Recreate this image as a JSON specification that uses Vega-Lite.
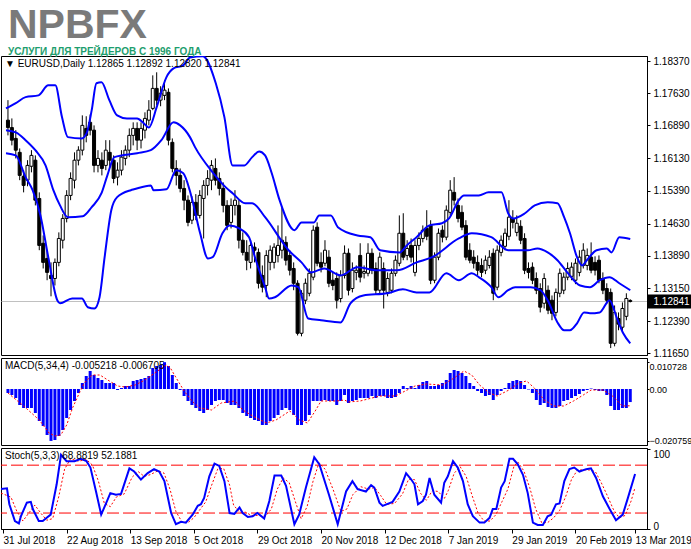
{
"$schema":"https://vega.github.io/schema/vega-lite/v6.json",
"padding":{"left":0,"top":4,"right":0,"bottom":0},
"background":"#ffffff",
"bounds":"flush",
"title":{"text":"NPBFX","subtitle":"УСЛУГИ ДЛЯ ТРЕЙДЕРОВ С 1996 ГОДА","anchor":"start","frame":"bounds","dx":8,"font":"Liberation Sans","fontSize":41,"fontWeight":"bold","color":"#7a7a7a","subtitleFont":"Liberation Sans Narrow, Liberation Sans","subtitleFontSize":10,"subtitleFontWeight":"bold","subtitleColor":"#1e9e6e","subtitlePadding":0,"offset":-2},
"config":{"view":{"stroke":"#000000","strokeWidth":1},"axis":{"domainColor":"#000000","tickColor":"#000000","labelColor":"#000000","labelFont":"Liberation Sans, Arial, sans-serif","labelFontSize":10,"grid":false,"title":null,"labelOverlap":false,"labelFlush":false}},
"spacing":3,
"datasets":{
"bars":[
{"i":0,"o":1.1701,"h":1.1747,"l":1.1666,"c":1.1684,"m":-0.0016},
{"i":1,"o":1.1684,"h":1.1705,"l":1.1643,"c":1.1655,"m":-0.0024},
{"i":2,"o":1.1659,"h":1.1678,"l":1.1613,"c":1.1632,"m":-0.0036},
{"i":3,"o":1.1627,"h":1.1636,"l":1.1563,"c":1.1574,"m":-0.0064},
{"i":4,"o":1.1572,"h":1.1586,"l":1.1535,"c":1.1551,"m":-0.0076},
{"i":5,"o":1.1563,"h":1.1609,"l":1.1549,"c":1.1597,"m":-0.0076},
{"i":6,"o":1.1595,"h":1.1632,"l":1.1581,"c":1.1620,"m":-0.0076},
{"i":7,"o":1.1609,"h":1.1620,"l":1.1505,"c":1.1517,"m":-0.0096},
{"i":8,"o":1.1521,"h":1.1535,"l":1.1402,"c":1.1413,"m":-0.0128},
{"i":9,"o":1.1418,"h":1.1436,"l":1.1360,"c":1.1374,"m":-0.0148},
{"i":10,"o":1.1383,"h":1.1402,"l":1.1333,"c":1.1351,"m":-0.0184},
{"i":11,"o":1.1344,"h":1.1374,"l":1.1296,"c":1.1337,"m":-0.020759},
{"i":12,"o":1.1337,"h":1.1383,"l":1.1321,"c":1.1374,"m":-0.0204},
{"i":13,"o":1.1374,"h":1.1443,"l":1.1365,"c":1.1429,"m":-0.0188},
{"i":14,"o":1.1425,"h":1.1485,"l":1.1406,"c":1.1475,"m":-0.0164},
{"i":15,"o":1.1475,"h":1.1540,"l":1.1466,"c":1.1528,"m":-0.0116},
{"i":16,"o":1.1528,"h":1.1581,"l":1.1517,"c":1.1567,"m":-0.0084},
{"i":17,"o":1.1563,"h":1.1627,"l":1.1544,"c":1.1609,"m":-0.0048},
{"i":18,"o":1.1609,"h":1.1641,"l":1.1597,"c":1.1632,"m":-0.0016},
{"i":19,"o":1.1632,"h":1.1712,"l":1.1620,"c":1.1689,"m":0.0024},
{"i":20,"o":1.1682,"h":1.1710,"l":1.1650,"c":1.1666,"m":0.0052},
{"i":21,"o":1.1696,"h":1.1714,"l":1.1666,"c":1.1678,"m":0.0072},
{"i":22,"o":1.1678,"h":1.1689,"l":1.1581,"c":1.1597,"m":0.0056},
{"i":23,"o":1.1597,"h":1.1632,"l":1.1581,"c":1.1613,"m":0.0044},
{"i":24,"o":1.1609,"h":1.1627,"l":1.1574,"c":1.1590,"m":0.0036},
{"i":25,"o":1.1597,"h":1.1655,"l":1.1586,"c":1.1632,"m":0.0024},
{"i":26,"o":1.1627,"h":1.1655,"l":1.1593,"c":1.1609,"m":0.0024},
{"i":27,"o":1.1609,"h":1.1620,"l":1.1556,"c":1.1567,"m":0.0024},
{"i":28,"o":1.1570,"h":1.1604,"l":1.1551,"c":1.1586,"m":-0.0004},
{"i":29,"o":1.1586,"h":1.1632,"l":1.1574,"c":1.1616,"m":0.0004},
{"i":30,"o":1.1613,"h":1.1643,"l":1.1597,"c":1.1632,"m":0.0012},
{"i":31,"o":1.1632,"h":1.1682,"l":1.1616,"c":1.1666,"m":0.0012},
{"i":32,"o":1.1666,"h":1.1696,"l":1.1643,"c":1.1682,"m":0.0032},
{"i":33,"o":1.1682,"h":1.1696,"l":1.1632,"c":1.1655,"m":0.0036},
{"i":34,"o":1.1655,"h":1.1696,"l":1.1636,"c":1.1682,"m":0.0040},
{"i":35,"o":1.1678,"h":1.1719,"l":1.1659,"c":1.1705,"m":0.0044},
{"i":36,"o":1.1701,"h":1.1747,"l":1.1689,"c":1.1724,"m":0.0052},
{"i":37,"o":1.1728,"h":1.1804,"l":1.1724,"c":1.1774,"m":0.0084},
{"i":38,"o":1.1774,"h":1.1811,"l":1.1735,"c":1.1747,"m":0.0092},
{"i":39,"o":1.1747,"h":1.1779,"l":1.1733,"c":1.1763,"m":0.0096},
{"i":40,"o":1.1758,"h":1.1793,"l":1.1747,"c":1.1770,"m":0.010728},
{"i":41,"o":1.1765,"h":1.1774,"l":1.1643,"c":1.1655,"m":0.0092},
{"i":42,"o":1.1650,"h":1.1659,"l":1.1581,"c":1.1590,"m":0.0056},
{"i":43,"o":1.1590,"h":1.1609,"l":1.1551,"c":1.1574,"m":0.0024},
{"i":44,"o":1.1574,"h":1.1590,"l":1.1535,"c":1.1544,"m":-0.0004},
{"i":45,"o":1.1544,"h":1.1563,"l":1.1494,"c":1.1517,"m":-0.0028},
{"i":46,"o":1.1517,"h":1.1528,"l":1.1457,"c":1.1466,"m":-0.0048},
{"i":47,"o":1.1471,"h":1.1526,"l":1.1462,"c":1.1512,"m":-0.0064},
{"i":48,"o":1.1512,"h":1.1531,"l":1.1471,"c":1.1482,"m":-0.0076},
{"i":49,"o":1.1482,"h":1.1540,"l":1.1475,"c":1.1528,"m":-0.0088},
{"i":50,"o":1.1521,"h":1.1563,"l":1.1429,"c":1.1551,"m":-0.0096},
{"i":51,"o":1.1551,"h":1.1586,"l":1.1528,"c":1.1567,"m":-0.0084},
{"i":52,"o":1.1563,"h":1.1609,"l":1.1540,"c":1.1597,"m":-0.0064},
{"i":53,"o":1.1590,"h":1.1613,"l":1.1551,"c":1.1563,"m":-0.0048},
{"i":54,"o":1.1567,"h":1.1581,"l":1.1528,"c":1.1544,"m":-0.0044},
{"i":55,"o":1.1544,"h":1.1558,"l":1.1489,"c":1.1505,"m":-0.0044},
{"i":56,"o":1.1505,"h":1.1517,"l":1.1448,"c":1.1459,"m":-0.0056},
{"i":57,"o":1.1466,"h":1.1521,"l":1.1452,"c":1.1505,"m":-0.0064},
{"i":58,"o":1.1505,"h":1.1540,"l":1.1482,"c":1.1517,"m":-0.0064},
{"i":59,"o":1.1505,"h":1.1517,"l":1.1406,"c":1.1425,"m":-0.0076},
{"i":60,"o":1.1425,"h":1.1443,"l":1.1390,"c":1.1397,"m":-0.0096},
{"i":61,"o":1.1397,"h":1.1425,"l":1.1356,"c":1.1379,"m":-0.0108},
{"i":62,"o":1.1374,"h":1.1425,"l":1.1360,"c":1.1413,"m":-0.0116},
{"i":63,"o":1.1409,"h":1.1420,"l":1.1374,"c":1.1402,"m":-0.0124},
{"i":64,"o":1.1397,"h":1.1406,"l":1.1314,"c":1.1326,"m":-0.0128},
{"i":65,"o":1.1344,"h":1.1367,"l":1.1305,"c":1.1317,"m":-0.0144},
{"i":66,"o":1.1321,"h":1.1402,"l":1.1294,"c":1.1390,"m":-0.0144},
{"i":67,"o":1.1374,"h":1.1413,"l":1.1356,"c":1.1402,"m":-0.0128},
{"i":68,"o":1.1374,"h":1.1418,"l":1.1360,"c":1.1409,"m":-0.0116},
{"i":69,"o":1.1390,"h":1.1459,"l":1.1374,"c":1.1413,"m":-0.0104},
{"i":70,"o":1.1402,"h":1.1501,"l":1.1383,"c":1.1425,"m":-0.0084},
{"i":71,"o":1.1420,"h":1.1434,"l":1.1367,"c":1.1379,"m":-0.0076},
{"i":72,"o":1.1390,"h":1.1402,"l":1.1344,"c":1.1356,"m":-0.0084},
{"i":73,"o":1.1360,"h":1.1374,"l":1.1310,"c":1.1326,"m":-0.0104},
{"i":74,"o":1.1326,"h":1.1333,"l":1.1206,"c":1.1211,"m":-0.0144},
{"i":75,"o":1.1211,"h":1.1310,"l":1.1204,"c":1.1303,"m":-0.0144},
{"i":76,"o":1.1287,"h":1.1337,"l":1.1278,"c":1.1326,"m":-0.0128},
{"i":77,"o":1.1303,"h":1.1360,"l":1.1296,"c":1.1349,"m":-0.0104},
{"i":78,"o":1.1340,"h":1.1459,"l":1.1333,"c":1.1448,"m":-0.0048},
{"i":79,"o":1.1455,"h":1.1466,"l":1.1365,"c":1.1372,"m":-0.0048},
{"i":80,"o":1.1374,"h":1.1397,"l":1.1351,"c":1.1363,"m":-0.0048},
{"i":81,"o":1.1372,"h":1.1425,"l":1.1365,"c":1.1402,"m":-0.0044},
{"i":82,"o":1.1386,"h":1.1402,"l":1.1317,"c":1.1326,"m":-0.0048},
{"i":83,"o":1.1333,"h":1.1351,"l":1.1310,"c":1.1321,"m":-0.0048},
{"i":84,"o":1.1337,"h":1.1351,"l":1.1268,"c":1.1287,"m":-0.0064},
{"i":85,"o":1.1291,"h":1.1356,"l":1.1282,"c":1.1344,"m":-0.0048},
{"i":86,"o":1.1344,"h":1.1413,"l":1.1337,"c":1.1395,"m":-0.0024},
{"i":87,"o":1.1395,"h":1.1406,"l":1.1298,"c":1.1310,"m":-0.0056},
{"i":88,"o":1.1314,"h":1.1374,"l":1.1305,"c":1.1356,"m":-0.0048},
{"i":89,"o":1.1351,"h":1.1367,"l":1.1333,"c":1.1356,"m":-0.0044},
{"i":90,"o":1.1390,"h":1.1418,"l":1.1328,"c":1.1340,"m":-0.0036},
{"i":91,"o":1.1349,"h":1.1367,"l":1.1337,"c":1.1353,"m":-0.0036},
{"i":92,"o":1.1349,"h":1.1418,"l":1.1342,"c":1.1395,"m":-0.0036},
{"i":93,"o":1.1395,"h":1.1406,"l":1.1347,"c":1.1356,"m":-0.0028},
{"i":94,"o":1.1360,"h":1.1374,"l":1.1301,"c":1.1310,"m":-0.0036},
{"i":95,"o":1.1310,"h":1.1397,"l":1.1303,"c":1.1386,"m":-0.0028},
{"i":96,"o":1.1360,"h":1.1374,"l":1.1268,"c":1.1310,"m":-0.0028},
{"i":97,"o":1.1305,"h":1.1351,"l":1.1296,"c":1.1337,"m":-0.0036},
{"i":98,"o":1.1310,"h":1.1360,"l":1.1303,"c":1.1349,"m":-0.0036},
{"i":99,"o":1.1349,"h":1.1390,"l":1.1342,"c":1.1379,"m":-0.0032},
{"i":100,"o":1.1372,"h":1.1482,"l":1.1365,"c":1.1441,"m":-0.0016},
{"i":101,"o":1.1441,"h":1.1487,"l":1.1379,"c":1.1386,"m":0.0012},
{"i":102,"o":1.1390,"h":1.1425,"l":1.1379,"c":1.1406,"m":0.0004},
{"i":103,"o":1.1413,"h":1.1429,"l":1.1374,"c":1.1386,"m":0.0012},
{"i":104,"o":1.1351,"h":1.1425,"l":1.1342,"c":1.1413,"m":0.0004},
{"i":105,"o":1.1413,"h":1.1443,"l":1.1402,"c":1.1429,"m":0.0016},
{"i":106,"o":1.1429,"h":1.1459,"l":1.1420,"c":1.1448,"m":0.0028},
{"i":107,"o":1.1452,"h":1.1494,"l":1.1425,"c":1.1434,"m":0.0032},
{"i":108,"o":1.1459,"h":1.1471,"l":1.1324,"c":1.1333,"m":0.0012},
{"i":109,"o":1.1333,"h":1.1397,"l":1.1326,"c":1.1386,"m":0.0012},
{"i":110,"o":1.1386,"h":1.1452,"l":1.1379,"c":1.1441,"m":0.0016},
{"i":111,"o":1.1448,"h":1.1459,"l":1.1420,"c":1.1432,"m":0.0024},
{"i":112,"o":1.1432,"h":1.1505,"l":1.1425,"c":1.1494,"m":0.0036},
{"i":113,"o":1.1489,"h":1.1563,"l":1.1482,"c":1.1540,"m":0.0064},
{"i":114,"o":1.1535,"h":1.1570,"l":1.1505,"c":1.1517,"m":0.0076},
{"i":115,"o":1.1505,"h":1.1521,"l":1.1466,"c":1.1475,"m":0.0072},
{"i":116,"o":1.1489,"h":1.1505,"l":1.1448,"c":1.1455,"m":0.0064},
{"i":117,"o":1.1459,"h":1.1471,"l":1.1379,"c":1.1386,"m":0.0052},
{"i":118,"o":1.1402,"h":1.1418,"l":1.1372,"c":1.1379,"m":0.0024},
{"i":119,"o":1.1386,"h":1.1402,"l":1.1360,"c":1.1372,"m":0.0012},
{"i":120,"o":1.1374,"h":1.1390,"l":1.1344,"c":1.1356,"m":-0.0008},
{"i":121,"o":1.1367,"h":1.1383,"l":1.1340,"c":1.1351,"m":-0.0016},
{"i":122,"o":1.1356,"h":1.1390,"l":1.1347,"c":1.1379,"m":-0.0028},
{"i":123,"o":1.1367,"h":1.1402,"l":1.1360,"c":1.1386,"m":-0.0024},
{"i":124,"o":1.1395,"h":1.1406,"l":1.1287,"c":1.1303,"m":-0.0044},
{"i":125,"o":1.1317,"h":1.1413,"l":1.1310,"c":1.1402,"m":-0.0024},
{"i":126,"o":1.1397,"h":1.1436,"l":1.1388,"c":1.1425,"m":-0.0008},
{"i":127,"o":1.1411,"h":1.1452,"l":1.1402,"c":1.1441,"m":0.0004},
{"i":128,"o":1.1434,"h":1.1517,"l":1.1425,"c":1.1478,"m":0.0024},
{"i":129,"o":1.1475,"h":1.1494,"l":1.1452,"c":1.1466,"m":0.0032},
{"i":130,"o":1.1443,"h":1.1482,"l":1.1434,"c":1.1464,"m":0.0036},
{"i":131,"o":1.1457,"h":1.1471,"l":1.1416,"c":1.1425,"m":0.0032},
{"i":132,"o":1.1429,"h":1.1441,"l":1.1347,"c":1.1356,"m":0.0016},
{"i":133,"o":1.1360,"h":1.1374,"l":1.1337,"c":1.1351,"m":-0.0002},
{"i":134,"o":1.1363,"h":1.1374,"l":1.1324,"c":1.1333,"m":-0.0016},
{"i":135,"o":1.1337,"h":1.1351,"l":1.1301,"c":1.1310,"m":-0.0044},
{"i":136,"o":1.1314,"h":1.1326,"l":1.1259,"c":1.1271,"m":-0.0064},
{"i":137,"o":1.1280,"h":1.1349,"l":1.1268,"c":1.1337,"m":-0.0056},
{"i":138,"o":1.1310,"h":1.1321,"l":1.1255,"c":1.1264,"m":-0.0072},
{"i":139,"o":1.1287,"h":1.1298,"l":1.1241,"c":1.1257,"m":-0.0076},
{"i":140,"o":1.1259,"h":1.1314,"l":1.1250,"c":1.1305,"m":-0.0076},
{"i":141,"o":1.1303,"h":1.1360,"l":1.1294,"c":1.1349,"m":-0.0068},
{"i":142,"o":1.1310,"h":1.1351,"l":1.1301,"c":1.1340,"m":-0.0048},
{"i":143,"o":1.1340,"h":1.1374,"l":1.1333,"c":1.1360,"m":-0.0044},
{"i":144,"o":1.1342,"h":1.1374,"l":1.1333,"c":1.1363,"m":-0.0036},
{"i":145,"o":1.1333,"h":1.1383,"l":1.1324,"c":1.1372,"m":-0.0028},
{"i":146,"o":1.1351,"h":1.1402,"l":1.1342,"c":1.1386,"m":-0.0020},
{"i":147,"o":1.1367,"h":1.1418,"l":1.1360,"c":1.1402,"m":-0.0008},
{"i":148,"o":1.1367,"h":1.1406,"l":1.1356,"c":1.1390,"m":-0.0004},
{"i":149,"o":1.1386,"h":1.1420,"l":1.1349,"c":1.1356,"m":0.0002},
{"i":150,"o":1.1374,"h":1.1388,"l":1.1344,"c":1.1356,"m":-0.0004},
{"i":151,"o":1.1379,"h":1.1390,"l":1.1326,"c":1.1333,"m":-0.0008},
{"i":152,"o":1.1337,"h":1.1351,"l":1.1301,"c":1.1310,"m":-0.0008},
{"i":153,"o":1.1314,"h":1.1326,"l":1.1278,"c":1.1287,"m":-0.0024},
{"i":154,"o":1.1305,"h":1.1314,"l":1.1177,"c":1.1188,"m":-0.0068},
{"i":155,"o":1.1188,"h":1.1275,"l":1.1181,"c":1.1259,"m":-0.0084},
{"i":156,"o":1.1245,"h":1.1259,"l":1.1218,"c":1.1232,"m":-0.0084},
{"i":157,"o":1.1225,"h":1.1282,"l":1.1213,"c":1.1268,"m":-0.0076},
{"i":158,"o":1.1250,"h":1.1303,"l":1.1241,"c":1.1291,"m":-0.0076},
{"i":159,"o":1.12865,"h":1.12892,"l":1.12820,"c":1.12841,"m":-0.005218}
],
"bb":[
{"b":"u","i":-0.5,"v":1.1728},{"b":"u","i":2,"v":1.1740},{"b":"u","i":4.5,"v":1.1754},{"b":"u","i":7.8,"v":1.1758},{"b":"u","i":10.3,"v":1.1781},{"b":"u","i":12.1,"v":1.1781},{"b":"u","i":13.8,"v":1.1708},{"b":"u","i":15.3,"v":1.1662},{"b":"u","i":18.9,"v":1.1659},{"b":"u","i":20.1,"v":1.1671},{"b":"u","i":21.4,"v":1.1724},{"b":"u","i":22.6,"v":1.1786},{"b":"u","i":23.9,"v":1.1788},{"b":"u","i":25.9,"v":1.1747},{"b":"u","i":27.9,"v":1.1712},{"b":"u","i":30.4,"v":1.1705},{"b":"u","i":33,"v":1.1705},{"b":"u","i":34.7,"v":1.1694},{"b":"u","i":36,"v":1.1684},{"b":"u","i":38,"v":1.1731},{"b":"u","i":40.5,"v":1.1800},{"b":"u","i":42.3,"v":1.1820},{"b":"u","i":44.8,"v":1.1827},{"b":"u","i":46.5,"v":1.1845},{"b":"u","i":49.8,"v":1.1848},{"b":"u","i":53.1,"v":1.1786},{"b":"u","i":55.3,"v":1.1708},{"b":"u","i":57.4,"v":1.1597},{"b":"u","i":60.4,"v":1.1597},{"b":"u","i":62.4,"v":1.1616},{"b":"u","i":64.2,"v":1.1629},{"b":"u","i":65.7,"v":1.1620},{"b":"u","i":67.4,"v":1.1579},{"b":"u","i":69.4,"v":1.1517},{"b":"u","i":73.2,"v":1.1448},{"b":"u","i":75,"v":1.1466},{"b":"u","i":78.2,"v":1.1466},{"b":"u","i":79.5,"v":1.1482},{"b":"u","i":82.5,"v":1.1482},{"b":"u","i":84.3,"v":1.1455},{"b":"u","i":89.3,"v":1.1436},{"b":"u","i":92.6,"v":1.1432},{"b":"u","i":95.1,"v":1.1402},{"b":"u","i":100.1,"v":1.1397},{"b":"u","i":101.9,"v":1.1413},{"b":"u","i":104.4,"v":1.1432},{"b":"u","i":107.7,"v":1.1459},{"b":"u","i":110.9,"v":1.1464},{"b":"u","i":112.7,"v":1.1475},{"b":"u","i":115.2,"v":1.1517},{"b":"u","i":116.5,"v":1.1528},{"b":"u","i":120.3,"v":1.1528},{"b":"u","i":122.8,"v":1.1535},{"b":"u","i":126.1,"v":1.1535},{"b":"u","i":127.8,"v":1.1487},{"b":"u","i":129.1,"v":1.1475},{"b":"u","i":132.1,"v":1.1487},{"b":"u","i":134.6,"v":1.1505},{"b":"u","i":137.9,"v":1.1512},{"b":"u","i":140.4,"v":1.1510},{"b":"u","i":142.1,"v":1.1478},{"b":"u","i":143.6,"v":1.1441},{"b":"u","i":145.4,"v":1.1386},{"b":"u","i":146.7,"v":1.1367},{"b":"u","i":147.9,"v":1.1379},{"b":"u","i":150.4,"v":1.1402},{"b":"u","i":153,"v":1.1406},{"b":"u","i":154.2,"v":1.1397},{"b":"u","i":156.2,"v":1.1432},{"b":"u","i":159,"v":1.1428},
{"b":"m","i":-0.5,"v":1.1678},{"b":"m","i":2,"v":1.1673},{"b":"m","i":4.5,"v":1.1655},{"b":"m","i":7,"v":1.1632},{"b":"m","i":9.6,"v":1.1597},{"b":"m","i":11.6,"v":1.1540},{"b":"m","i":13.3,"v":1.1505},{"b":"m","i":15.3,"v":1.1478},{"b":"m","i":19.1,"v":1.1480},{"b":"m","i":21.4,"v":1.1501},{"b":"m","i":23.9,"v":1.1533},{"b":"m","i":25.4,"v":1.1574},{"b":"m","i":27.2,"v":1.1616},{"b":"m","i":33,"v":1.1625},{"b":"m","i":36.5,"v":1.1632},{"b":"m","i":39.2,"v":1.1655},{"b":"m","i":42.3,"v":1.1696},{"b":"m","i":44,"v":1.1689},{"b":"m","i":46.5,"v":1.1662},{"b":"m","i":47.8,"v":1.1639},{"b":"m","i":52.3,"v":1.1581},{"b":"m","i":55.6,"v":1.1547},{"b":"m","i":57.4,"v":1.1533},{"b":"m","i":60.6,"v":1.1510},{"b":"m","i":62.4,"v":1.1510},{"b":"m","i":65.7,"v":1.1478},{"b":"m","i":71.7,"v":1.1402},{"b":"m","i":75,"v":1.1374},{"b":"m","i":77.5,"v":1.1351},{"b":"m","i":80.8,"v":1.1360},{"b":"m","i":85,"v":1.1344},{"b":"m","i":89.3,"v":1.1363},{"b":"m","i":94.3,"v":1.1356},{"b":"m","i":99.4,"v":1.1356},{"b":"m","i":104.4,"v":1.1374},{"b":"m","i":108.4,"v":1.1386},{"b":"m","i":115.2,"v":1.1429},{"b":"m","i":118.5,"v":1.1441},{"b":"m","i":123.5,"v":1.1432},{"b":"m","i":127.8,"v":1.1402},{"b":"m","i":132.8,"v":1.1402},{"b":"m","i":135.3,"v":1.1406},{"b":"m","i":137.9,"v":1.1397},{"b":"m","i":140.4,"v":1.1379},{"b":"m","i":142.9,"v":1.1351},{"b":"m","i":146.2,"v":1.1321},{"b":"m","i":148.7,"v":1.1317},{"b":"m","i":151.2,"v":1.1333},{"b":"m","i":153.7,"v":1.1340},{"b":"m","i":156.2,"v":1.1326},{"b":"m","i":159,"v":1.1310},
{"b":"l","i":-0.5,"v":1.1625},{"b":"l","i":2,"v":1.1620},{"b":"l","i":4.5,"v":1.1570},{"b":"l","i":6.3,"v":1.1540},{"b":"l","i":8.3,"v":1.1482},{"b":"l","i":10.3,"v":1.1386},{"b":"l","i":12.6,"v":1.1287},{"b":"l","i":13.3,"v":1.1280},{"b":"l","i":16.4,"v":1.1291},{"b":"l","i":18.9,"v":1.1291},{"b":"l","i":20.4,"v":1.1271},{"b":"l","i":22.1,"v":1.1268},{"b":"l","i":23.4,"v":1.1294},{"b":"l","i":24.7,"v":1.1386},{"b":"l","i":26.4,"v":1.1494},{"b":"l","i":27.9,"v":1.1524},{"b":"l","i":31.4,"v":1.1540},{"b":"l","i":32.2,"v":1.1542},{"b":"l","i":36.5,"v":1.1551},{"b":"l","i":37.2,"v":1.1540},{"b":"l","i":40.5,"v":1.1542},{"b":"l","i":43,"v":1.1586},{"b":"l","i":44.8,"v":1.1579},{"b":"l","i":46.8,"v":1.1528},{"b":"l","i":49.1,"v":1.1441},{"b":"l","i":51.1,"v":1.1383},{"b":"l","i":52.3,"v":1.1386},{"b":"l","i":54.8,"v":1.1441},{"b":"l","i":56.6,"v":1.1459},{"b":"l","i":59.1,"v":1.1452},{"b":"l","i":61.6,"v":1.1432},{"b":"l","i":63.1,"v":1.1386},{"b":"l","i":65.7,"v":1.1317},{"b":"l","i":66.7,"v":1.1291},{"b":"l","i":68.2,"v":1.1294},{"b":"l","i":72.5,"v":1.1321},{"b":"l","i":74.2,"v":1.1317},{"b":"l","i":76.7,"v":1.1245},{"b":"l","i":80,"v":1.1241},{"b":"l","i":85,"v":1.1236},{"b":"l","i":87.5,"v":1.1280},{"b":"l","i":90.8,"v":1.1298},{"b":"l","i":96.9,"v":1.1303},{"b":"l","i":100.9,"v":1.1312},{"b":"l","i":104.4,"v":1.1305},{"b":"l","i":107.7,"v":1.1305},{"b":"l","i":112,"v":1.1349},{"b":"l","i":115.2,"v":1.1333},{"b":"l","i":118.5,"v":1.1349},{"b":"l","i":120.3,"v":1.1340},{"b":"l","i":123.5,"v":1.1317},{"b":"l","i":125.3,"v":1.1294},{"b":"l","i":127.8,"v":1.1310},{"b":"l","i":129.6,"v":1.1317},{"b":"l","i":133.6,"v":1.1317},{"b":"l","i":136.1,"v":1.1310},{"b":"l","i":137.9,"v":1.1287},{"b":"l","i":140.4,"v":1.1236},{"b":"l","i":142.1,"v":1.1218},{"b":"l","i":143.6,"v":1.1218},{"b":"l","i":145.4,"v":1.1234},{"b":"l","i":147.2,"v":1.1259},{"b":"l","i":148.7,"v":1.1257},{"b":"l","i":151.2,"v":1.1259},{"b":"l","i":153.7,"v":1.1287},{"b":"l","i":155.5,"v":1.1248},{"b":"l","i":157.2,"v":1.1211},{"b":"l","i":159,"v":1.1188}
],
"macdsig":[
{"i":0,"v":-0.0016},{"i":4,"v":-0.0068},{"i":8,"v":-0.0124},{"i":10.5,"v":-0.0176},{"i":12,"v":-0.0188},{"i":13.5,"v":-0.0184},{"i":15,"v":-0.0144},{"i":16.5,"v":-0.0076},{"i":18,"v":-0.0024},{"i":19.5,"v":0.0024},{"i":21.5,"v":0.0056},{"i":23.5,"v":0.0056},{"i":25.5,"v":0.0036},{"i":28,"v":0.0012},{"i":30,"v":0.0008},{"i":32.5,"v":0.0016},{"i":35,"v":0.0036},{"i":37.5,"v":0.0064},{"i":40.5,"v":0.0096},{"i":41.5,"v":0.0084},{"i":43,"v":0.0044},{"i":45,"v":-0.0008},{"i":47,"v":-0.0048},{"i":49,"v":-0.0076},{"i":52,"v":-0.0084},{"i":54.5,"v":-0.0056},{"i":58,"v":-0.0048},{"i":60,"v":-0.0084},{"i":62.5,"v":-0.0108},{"i":66,"v":-0.0136},{"i":68.5,"v":-0.0124},{"i":72,"v":-0.0088},{"i":74.5,"v":-0.0124},{"i":76.5,"v":-0.0136},{"i":78.5,"v":-0.0088},{"i":80,"v":-0.0048},{"i":84,"v":-0.0048},{"i":86,"v":-0.0044},{"i":87,"v":-0.0052},{"i":90,"v":-0.0048},{"i":95,"v":-0.0028},{"i":99,"v":-0.0028},{"i":101.5,"v":-0.0008},{"i":104,"v":0.0012},{"i":107,"v":0.0020},{"i":111,"v":0.0016},{"i":114,"v":0.0044},{"i":116.5,"v":0.0072},{"i":118.5,"v":0.0056},{"i":120.5,"v":0.0016},{"i":123,"v":-0.0016},{"i":125,"v":-0.0028},{"i":128,"v":-0.0004},{"i":130.5,"v":0.0024},{"i":132.5,"v":0.0032},{"i":134.5,"v":0.0004},{"i":137,"v":-0.0044},{"i":139.5,"v":-0.0068},{"i":142,"v":-0.0068},{"i":144.5,"v":-0.0048},{"i":147,"v":-0.0024},{"i":149,"v":-0.0004},{"i":152,"v":-0.0004},{"i":154.5,"v":-0.0028},{"i":157,"v":-0.0068},{"i":159,"v":-0.006705}
],
"stmain":[
{"i":-0.5,"v":50},{"i":1,"v":51},{"i":1.6,"v":31},{"i":3,"v":10},{"i":4,"v":7},{"i":4.5,"v":16},{"i":6,"v":33},{"i":7,"v":34},{"i":7.5,"v":25},{"i":9,"v":10},{"i":10,"v":10},{"i":11,"v":14},{"i":12,"v":18},{"i":13.5,"v":56},{"i":14.6,"v":93},{"i":16,"v":85},{"i":18,"v":85},{"i":19.6,"v":88},{"i":21,"v":85},{"i":22,"v":77},{"i":23.4,"v":47},{"i":24.7,"v":18},{"i":26,"v":33},{"i":27,"v":45},{"i":28.4,"v":43},{"i":29.7,"v":44},{"i":31.8,"v":76},{"i":33,"v":72},{"i":34.7,"v":62},{"i":36.4,"v":70},{"i":38,"v":75},{"i":39.3,"v":72},{"i":40.6,"v":60},{"i":42.3,"v":20},{"i":43.5,"v":6},{"i":44.8,"v":9},{"i":46,"v":8},{"i":47.7,"v":18},{"i":49,"v":29},{"i":49.8,"v":31},{"i":50.6,"v":39},{"i":51.9,"v":66},{"i":53.2,"v":82},{"i":54.4,"v":79},{"i":55.7,"v":60},{"i":57,"v":20},{"i":58.2,"v":19},{"i":59.5,"v":27},{"i":60.3,"v":20},{"i":61.6,"v":15},{"i":62.8,"v":16},{"i":64,"v":20},{"i":65.7,"v":13},{"i":67,"v":35},{"i":68.3,"v":67},{"i":70,"v":67},{"i":71.2,"v":54},{"i":73.3,"v":6},{"i":74.5,"v":18},{"i":76.2,"v":52},{"i":78.3,"v":90},{"i":79.6,"v":81},{"i":82,"v":43},{"i":84.2,"v":6},{"i":86.3,"v":47},{"i":87.9,"v":60},{"i":89.2,"v":50},{"i":91.3,"v":47},{"i":92.6,"v":55},{"i":93.4,"v":52},{"i":94.7,"v":33},{"i":95.5,"v":29},{"i":98,"v":34},{"i":99.7,"v":47},{"i":101.4,"v":70},{"i":102.7,"v":62},{"i":103.5,"v":56},{"i":104.4,"v":31},{"i":105.6,"v":35},{"i":106.4,"v":43},{"i":107.3,"v":64},{"i":108.5,"v":43},{"i":110.2,"v":33},{"i":111,"v":58},{"i":111.9,"v":66},{"i":113.2,"v":85},{"i":114.4,"v":77},{"i":115.7,"v":60},{"i":116.9,"v":31},{"i":118.2,"v":16},{"i":119.9,"v":8},{"i":121.1,"v":8},{"i":122.4,"v":14},{"i":123.2,"v":25},{"i":124.1,"v":25},{"i":125.3,"v":52},{"i":126.2,"v":60},{"i":127.4,"v":88},{"i":128.3,"v":88},{"i":129.5,"v":81},{"i":130.8,"v":68},{"i":132,"v":45},{"i":133.3,"v":8},{"i":134.5,"v":5},{"i":135.8,"v":5},{"i":137,"v":16},{"i":137.9,"v":18},{"i":139.1,"v":31},{"i":140,"v":32},{"i":141.2,"v":60},{"i":142.5,"v":75},{"i":143.7,"v":77},{"i":145,"v":72},{"i":146.7,"v":75},{"i":147.9,"v":76},{"i":149.2,"v":64},{"i":150.9,"v":41},{"i":152.6,"v":25},{"i":154.2,"v":11},{"i":155.9,"v":18},{"i":157.2,"v":39},{"i":159,"v":68.88}
],
"stsig":[
{"i":-0.5,"v":45},{"i":2,"v":40},{"i":3.5,"v":22},{"i":5,"v":10},{"i":6.5,"v":20},{"i":8,"v":30},{"i":9.5,"v":20},{"i":11,"v":11},{"i":12.5,"v":13},{"i":14,"v":40},{"i":15.5,"v":75},{"i":17,"v":88},{"i":19,"v":85},{"i":21,"v":87},{"i":22.5,"v":80},{"i":24,"v":60},{"i":25.5,"v":32},{"i":27,"v":28},{"i":28.5,"v":40},{"i":30.5,"v":44},{"i":32.5,"v":65},{"i":34,"v":72},{"i":35.5,"v":66},{"i":37,"v":68},{"i":39,"v":73},{"i":40.5,"v":70},{"i":42,"v":50},{"i":43.5,"v":22},{"i":45,"v":9},{"i":46.5,"v":8},{"i":48,"v":14},{"i":49.5,"v":24},{"i":51,"v":34},{"i":52.5,"v":55},{"i":54,"v":75},{"i":55.5,"v":76},{"i":57,"v":55},{"i":58,"v":30},{"i":59.5,"v":21},{"i":61,"v":21},{"i":62.5,"v":17},{"i":64,"v":17},{"i":66,"v":16},{"i":67.5,"v":25},{"i":69,"v":50},{"i":70.5,"v":64},{"i":72,"v":58},{"i":73.5,"v":35},{"i":75,"v":13},{"i":76.5,"v":28},{"i":78,"v":60},{"i":79.5,"v":83},{"i":81,"v":75},{"i":83,"v":50},{"i":85,"v":22},{"i":86.5,"v":25},{"i":88,"v":43},{"i":90,"v":53},{"i":92,"v":50},{"i":93.5,"v":52},{"i":95,"v":42},{"i":96.5,"v":31},{"i":98.5,"v":32},{"i":100.5,"v":44},{"i":102,"v":62},{"i":103.5,"v":62},{"i":105,"v":45},{"i":106.5,"v":36},{"i":108,"v":48},{"i":109.5,"v":47},{"i":111,"v":38},{"i":112,"v":48},{"i":113.5,"v":70},{"i":115,"v":78},{"i":116.5,"v":66},{"i":118,"v":42},{"i":119.5,"v":20},{"i":121,"v":10},{"i":122.5,"v":10},{"i":124,"v":18},{"i":125.5,"v":34},{"i":127,"v":50},{"i":128.5,"v":78},{"i":129.5,"v":84},{"i":131,"v":73},{"i":132.5,"v":52},{"i":134,"v":25},{"i":135.5,"v":8},{"i":137,"v":8},{"i":138.5,"v":14},{"i":140,"v":23},{"i":141.5,"v":40},{"i":143,"v":62},{"i":144.5,"v":74},{"i":146,"v":74},{"i":147.5,"v":74},{"i":149,"v":72},{"i":150.5,"v":58},{"i":152,"v":42},{"i":153.5,"v":25},{"i":155,"v":14},{"i":156.5,"v":17},{"i":158,"v":35},{"i":159,"v":52.19}
]
},
"vconcat":[
{
"width":646,"height":299,
"title":{"text":"▼ EURUSD,Daily  1.12865 1.12892 1.12820 1.12841","anchor":"start","frame":"group","offset":-13,"dx":4,"font":"Liberation Sans, Arial, sans-serif","fontSize":10,"fontWeight":"normal","color":"#000000"},
"layer":[
{"data":{"name":"bars"},"mark":{"type":"rule","color":"#000000","strokeWidth":1},
"encoding":{"x":{"field":"i","type":"quantitative","scale":{"domain":[-0.5,162],"nice":false,"zero":false},"axis":null},
"y":{"field":"l","type":"quantitative","scale":{"domain":[1.11611,1.18485],"nice":false,"zero":false},
"axis":{"orient":"right","title":null,"labelOverlap":false,"labelSeparation":-12,"values":[1.1165,1.1239,1.12841,1.1315,1.1389,1.1463,1.1539,1.1613,1.1689,1.1763,1.1837],"format":".5f","grid":true,"gridColor":"#c0c0c0","gridOpacity":{"condition":{"test":"abs(datum.value-1.12841)<0.000001","value":1},"value":0},"tickSize":{"condition":{"test":"abs(datum.value-1.12841)<0.000001","value":44},"value":3},"tickWidth":{"condition":{"test":"abs(datum.value-1.12841)<0.000001","value":14},"value":1},"labelColor":{"condition":{"test":"abs(datum.value-1.12841)<0.000001","value":"#ffffff"},"value":"#000000"},"labelPadding":{"condition":{"test":"abs(datum.value-1.12841)<0.000001","value":-38},"value":3}}},
"y2":{"field":"h"}}},
{"data":{"name":"bars"},"mark":{"type":"bar","width":3,"stroke":"#000000","strokeWidth":1},
"encoding":{"x":{"field":"i","type":"quantitative","scale":{"domain":[-0.5,162],"nice":false,"zero":false},"axis":null},
"y":{"field":"o","type":"quantitative","scale":{"domain":[1.11611,1.18485],"nice":false,"zero":false},
"axis":{"orient":"right","title":null,"labelOverlap":false,"labelSeparation":-12,"values":[1.1165,1.1239,1.12841,1.1315,1.1389,1.1463,1.1539,1.1613,1.1689,1.1763,1.1837],"format":".5f","grid":true,"gridColor":"#c0c0c0","gridOpacity":{"condition":{"test":"abs(datum.value-1.12841)<0.000001","value":1},"value":0},"tickSize":{"condition":{"test":"abs(datum.value-1.12841)<0.000001","value":44},"value":3},"tickWidth":{"condition":{"test":"abs(datum.value-1.12841)<0.000001","value":14},"value":1},"labelColor":{"condition":{"test":"abs(datum.value-1.12841)<0.000001","value":"#ffffff"},"value":"#000000"},"labelPadding":{"condition":{"test":"abs(datum.value-1.12841)<0.000001","value":-38},"value":3}}},
"y2":{"field":"c"},
"fill":{"condition":{"test":"datum.c >= datum.o","value":"#ffffff"},"value":"#000000"}}},
{"data":{"name":"bb"},"mark":{"type":"line","color":"#0000ff","strokeWidth":2,"interpolate":"monotone","clip":true},
"encoding":{"x":{"field":"i","type":"quantitative","scale":{"domain":[-0.5,162],"nice":false,"zero":false},"axis":null},
"y":{"field":"v","type":"quantitative","scale":{"domain":[1.11611,1.18485],"nice":false,"zero":false},
"axis":{"orient":"right","title":null,"labelOverlap":false,"labelSeparation":-12,"values":[1.1165,1.1239,1.12841,1.1315,1.1389,1.1463,1.1539,1.1613,1.1689,1.1763,1.1837],"format":".5f","grid":true,"gridColor":"#c0c0c0","gridOpacity":{"condition":{"test":"abs(datum.value-1.12841)<0.000001","value":1},"value":0},"tickSize":{"condition":{"test":"abs(datum.value-1.12841)<0.000001","value":44},"value":3},"tickWidth":{"condition":{"test":"abs(datum.value-1.12841)<0.000001","value":14},"value":1},"labelColor":{"condition":{"test":"abs(datum.value-1.12841)<0.000001","value":"#ffffff"},"value":"#000000"},"labelPadding":{"condition":{"test":"abs(datum.value-1.12841)<0.000001","value":-38},"value":3}}},
"detail":{"field":"b","type":"nominal"}}}
]
},
{
"width":646,"height":87,
"title":{"text":"MACD(5,34,4) -0.005218 -0.006705","anchor":"start","frame":"group","offset":-13,"dx":4,"font":"Liberation Sans, Arial, sans-serif","fontSize":10,"fontWeight":"normal","color":"#000000"},
"layer":[
{"data":{"name":"bars"},"mark":{"type":"bar","width":3,"color":"#0000ff"},
"encoding":{"x":{"field":"i","type":"quantitative","scale":{"domain":[-0.5,162],"nice":false,"zero":false},"axis":null},
"y":{"field":"m","type":"quantitative","scale":{"domain":[-0.0224,0.0124],"nice":false},
"axis":{"orient":"right","title":null,"labelOverlap":false,"values":[0.010728,0,-0.020759],"labelExpr":"datum.value == 0 ? '0.00' : format(datum.value, '.6f')","labelFontSize":9,"tickSize":2,"labelPadding":0,"labelBaseline":{"condition":{"test":"datum.value > 0.001","value":"top"},"value":"middle"}}}}},
{"data":{"name":"macdsig"},"mark":{"type":"line","color":"#ff0000","strokeWidth":1,"strokeDash":[2,2]},
"encoding":{"x":{"field":"i","type":"quantitative","scale":{"domain":[-0.5,162],"nice":false,"zero":false},"axis":null},
"y":{"field":"v","type":"quantitative","scale":{"domain":[-0.0224,0.0124],"nice":false}}}}
]
},
{
"width":646,"height":81,
"title":{"text":"Stoch(5,3,3) 68.8819 52.1881","anchor":"start","frame":"group","offset":-13,"dx":4,"font":"Liberation Sans, Arial, sans-serif","fontSize":10,"fontWeight":"normal","color":"#000000"},
"layer":[
{"data":{"values":[{"lvl":20},{"lvl":80}]},"mark":{"type":"rule","color":"#ff0000","strokeWidth":1,"strokeDash":[12,4]},
"encoding":{"y":{"field":"lvl","type":"quantitative","scale":{"domain":[0,101.5],"nice":false},
"axis":{"orient":"right","title":null,"labelOverlap":false,"values":[100,80,20,0],"tickSize":3,"labelPadding":3,"labelBaseline":{"condition":{"test":"datum.value > 90","value":"top"},"value":{"expr":"datum.value < 10 ? 'bottom' : 'middle'"}}}}}},
{"data":{"name":"stsig"},"mark":{"type":"line","color":"#ff0000","strokeWidth":1,"strokeDash":[2,2],"clip":true},
"encoding":{"x":{"field":"i","type":"quantitative","scale":{"domain":[-0.5,162],"nice":false,"zero":false},
"axis":{"orient":"bottom","title":null,"labelOverlap":false,"values":[0,16,32,48,64,80,96,112,128,144,159],"labelExpr":"['31 Jul 2018','22 Aug 2018','13 Sep 2018','5 Oct 2018','29 Oct 2018','20 Nov 2018','12 Dec 2018','7 Jan 2019','29 Jan 2019','20 Feb 2019','13 Mar 2019'][round(datum.value/16)]","labelAlign":"left","labelPadding":2,"tickSize":4}},
"y":{"field":"v","type":"quantitative","scale":{"domain":[0,101.5],"nice":false}}}},
{"data":{"name":"stmain"},"mark":{"type":"line","color":"#0000ff","strokeWidth":2,"clip":true},
"encoding":{"x":{"field":"i","type":"quantitative","scale":{"domain":[-0.5,162],"nice":false,"zero":false},
"axis":{"orient":"bottom","title":null,"labelOverlap":false,"values":[0,16,32,48,64,80,96,112,128,144,159],"labelExpr":"['31 Jul 2018','22 Aug 2018','13 Sep 2018','5 Oct 2018','29 Oct 2018','20 Nov 2018','12 Dec 2018','7 Jan 2019','29 Jan 2019','20 Feb 2019','13 Mar 2019'][round(datum.value/16)]","labelAlign":"left","labelPadding":2,"tickSize":4}},
"y":{"field":"v","type":"quantitative","scale":{"domain":[0,101.5],"nice":false}}}}
]
}
]
}
